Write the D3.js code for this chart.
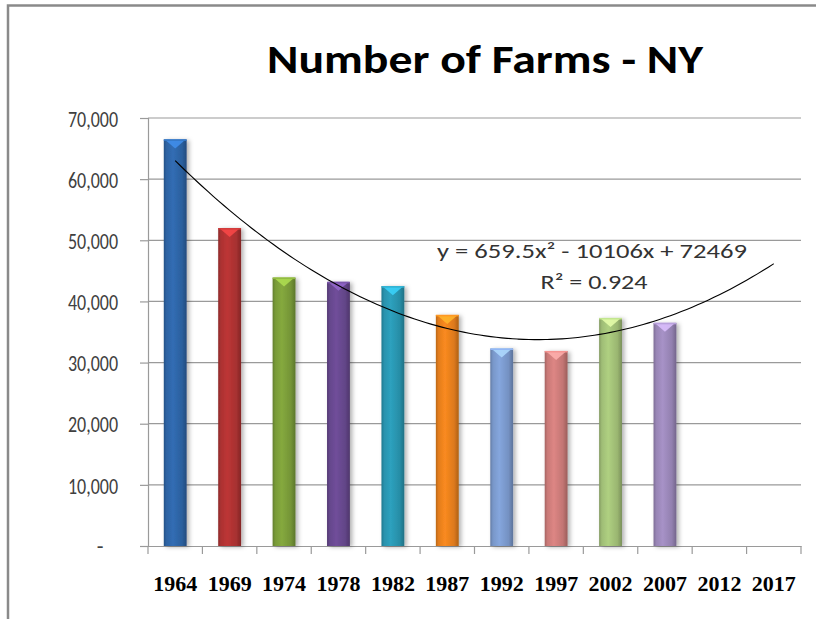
<!DOCTYPE html>
<html>
<head>
<meta charset="utf-8">
<script src="https://cdn.jsdelivr.net/npm/d3@7"></script>
<style>
  html, body { margin: 0; padding: 0; background: #fff; }
  svg { display: block; }
</style>
</head>
<body>
<script>
// ---- data ----
const years = ["1964","1969","1974","1978","1982","1987","1992","1997","2002","2007","2012","2017"];
const farms = [66500, 52000, 43900, 43200, 42500, 37800, 32300, 31900, 37300, 36500, null, null];
const barColors = ["#2f68ac","#b53434","#7fa23b","#6b4b94","#2b9ab6","#f0841f","#7f9fd4","#d4807e","#a8c77c","#a08cbf"];
const yTicks = [0, 10000, 20000, 30000, 40000, 50000, 60000, 70000];
const trendCoef = [659.5, -10106, 72469]; // a, b, c of y = a x^2 + b x + c
const titleText = "Number of Farms - NY";
const eqText = "y = 659.5x\u00b2 - 10106x + 72469";
const r2Text = "R\u00b2 = 0.924";

// ---- layout ----
const W = 816, H = 619;
const plot = {left: 148, right: 801, top: 118, bottom: 546};

const svg = d3.select("body").append("svg").attr("width", W).attr("height", H);
const defs = svg.append("defs");

// chart frame (left + top borders)
svg.append("path")
  .attr("d", `M8,${H} L8,5.5 L${W},5.5`)
  .attr("fill", "none").attr("stroke", "#8a8a8a").attr("stroke-width", 2.5);

// title
svg.append("text")
  .attr("x", 485).attr("y", 73)
  .attr("text-anchor", "middle")
  .attr("font-family", "Carlito, Calibri, Lato, sans-serif")
  .attr("font-weight", "bold").attr("font-size", 41)
  .attr("textLength", 436).attr("lengthAdjust", "spacingAndGlyphs")
  .attr("fill", "#000")
  .text(titleText);

// scales
const x = d3.scaleBand().domain(years).range([plot.left, plot.right]).padding(0);
const y = d3.scaleLinear().domain([0, 70000]).range([plot.bottom, plot.top]);

// gridlines
svg.append("g").selectAll("line").data(yTicks.filter(d => d > 0)).join("line")
  .attr("x1", plot.left).attr("x2", plot.right)
  .attr("y1", d => y(d)).attr("y2", d => y(d))
  .attr("stroke", "#9a9a9a").attr("stroke-width", 1.2);

// y axis
const yAxis = d3.axisLeft(y).tickValues(yTicks).tickSize(8)
  .tickFormat(d => d === 0 ? "" : d3.format(",")(d));
const gy = svg.append("g").attr("transform", `translate(${plot.left},0)`).call(yAxis);
gy.select(".domain").attr("stroke", "#9a9a9a").attr("stroke-width", 1.2);
gy.selectAll(".tick line").attr("stroke", "#9a9a9a").attr("stroke-width", 1.2);
gy.selectAll(".tick text")
  .attr("x", -30).attr("dy", "0.36em")
  .attr("font-family", "Carlito, Calibri, Lato, sans-serif")
  .attr("font-size", 23).attr("fill", "#404040")
  .attr("textLength", 50).attr("lengthAdjust", "spacingAndGlyphs");
// accounting-style dash for zero
svg.append("text")
  .attr("x", 100).attr("y", y(0)).attr("dy", "0.36em")
  .attr("text-anchor", "middle")
  .attr("font-family", "Carlito, Calibri, Lato, sans-serif")
  .attr("font-size", 22).attr("fill", "#404040").text("-");

// x axis
const xAxis = d3.axisBottom(x).tickSize(0).tickFormat(d => d);
const gx = svg.append("g").attr("transform", `translate(0,${plot.bottom})`).call(xAxis);
gx.select(".domain").attr("stroke", "#9a9a9a").attr("stroke-width", 1.2);
gx.selectAll(".tick text")
  .attr("y", 45).attr("dy", 0)
  .attr("font-family", "'Liberation Serif', 'Times New Roman', serif")
  .attr("font-weight", "bold").attr("font-size", 22).attr("fill", "#000")
  .attr("textLength", 44).attr("lengthAdjust", "spacingAndGlyphs");
// x tick marks at band boundaries
const bounds = years.map(d => x(d)).concat([plot.right]);
svg.append("g").selectAll("line").data(bounds).join("line")
  .attr("x1", d => d).attr("x2", d => d)
  .attr("y1", plot.bottom).attr("y2", plot.bottom + 8)
  .attr("stroke", "#9a9a9a").attr("stroke-width", 1.2);

// shadow filter
const f = defs.append("filter").attr("id", "shadow")
  .attr("x", "-30%").attr("y", "-10%").attr("width", "180%").attr("height", "130%");
f.append("feDropShadow").attr("dx", 2.5).attr("dy", 1).attr("stdDeviation", 2)
  .attr("flood-color", "#000").attr("flood-opacity", 0.3);

// gradients
barColors.forEach((c, i) => {
  const base = d3.color(c);
  const g = defs.append("linearGradient").attr("id", "grad" + i)
    .attr("x1", "0%").attr("x2", "100%").attr("y1", "0%").attr("y2", "0%");
  g.append("stop").attr("offset", "0%").attr("stop-color", base.darker(0.7));
  g.append("stop").attr("offset", "12%").attr("stop-color", base.darker(0.15));
  g.append("stop").attr("offset", "40%").attr("stop-color", base.brighter(0.12));
  g.append("stop").attr("offset", "80%").attr("stop-color", base.darker(0.25));
  g.append("stop").attr("offset", "100%").attr("stop-color", base.darker(0.9));
});

// bars
const barW = x.bandwidth() * 0.42;
const barData = years.map((yr, i) => ({yr, v: farms[i], i})).filter(d => d.v != null);
const bars = svg.append("g").selectAll("g").data(barData).join("g");
bars.append("rect")
  .attr("x", d => x(d.yr) + x.bandwidth() / 2 - barW / 2)
  .attr("y", d => y(d.v))
  .attr("width", barW)
  .attr("height", d => y(0) - y(d.v))
  .attr("fill", d => `url(#grad${d.i})`)
  .attr("filter", "url(#shadow)");
// pyramid cap highlight
bars.append("path")
  .attr("d", d => {
    const cx = x(d.yr) + x.bandwidth() / 2, t = y(d.v);
    return `M${cx - barW / 2 + 1},${t} L${cx + barW / 2 - 1},${t} L${cx},${t + 9} Z`;
  })
  .attr("fill", d => d3.color(barColors[d.i]).brighter(0.9))
  .attr("opacity", 0.85);
bars.append("rect")
  .attr("x", d => x(d.yr) + x.bandwidth() / 2 - barW / 2)
  .attr("y", d => y(d.v))
  .attr("width", barW).attr("height", 1.5)
  .attr("fill", d => d3.color(barColors[d.i]).brighter(0.4));

// polynomial trendline
const xs = d3.range(1, 12.0001, 0.1);
const xIdx = d3.scaleLinear().domain([1, 12])
  .range([x(years[0]) + x.bandwidth() / 2, x(years[11]) + x.bandwidth() / 2]);
const trend = xs.map(t => [xIdx(t), y(trendCoef[0] * t * t + trendCoef[1] * t + trendCoef[2])]);
svg.append("path")
  .attr("d", d3.line().curve(d3.curveMonotoneX)(trend))
  .attr("fill", "none").attr("stroke", "#000").attr("stroke-width", 1.1);

// equation labels
svg.append("text")
  .attr("x", 592).attr("y", 258).attr("text-anchor", "middle")
  .attr("font-family", "Carlito, Calibri, Lato, sans-serif")
  .attr("font-size", 21).attr("fill", "#333")
  .attr("textLength", 310).attr("lengthAdjust", "spacingAndGlyphs")
  .text(eqText);
svg.append("text")
  .attr("x", 594).attr("y", 289).attr("text-anchor", "middle")
  .attr("font-family", "Carlito, Calibri, Lato, sans-serif")
  .attr("font-size", 21).attr("fill", "#333")
  .attr("textLength", 107).attr("lengthAdjust", "spacingAndGlyphs")
  .text(r2Text);
</script>
</body>
</html>
